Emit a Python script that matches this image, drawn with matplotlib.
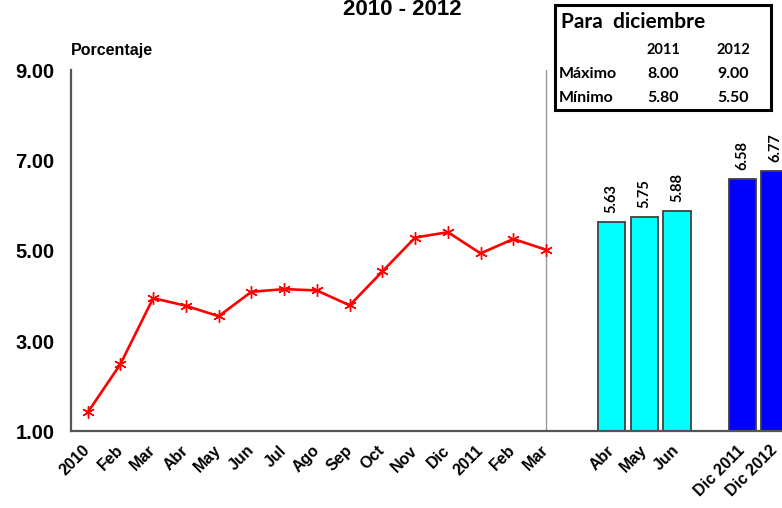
# Expectativas de inflacion 2010 - 2012
# grafico de linea (observado) + barras (expectativas)

import matplotlib
matplotlib.use('Agg')
import matplotlib.pyplot as plt
import numpy as np

# datos observados (linea)
meses_obs = ['2010', 'Feb', 'Mar', 'Abr', 'May', 'Jun', 'Jul', 'Ago', 'Sep',
             'Oct', 'Nov', 'Dic', '2011', 'Feb', 'Mar']
valores_obs = [1.42, 2.49, 3.95, 3.78, 3.55, 4.09, 4.15, 4.12, 3.79,
               4.54, 5.29, 5.41, 4.94, 5.26, 5.02]

# expectativas (barras)
meses_exp = ['Abr', 'May', 'Jun']
valores_exp = [5.63, 5.75, 5.88]
dic_labels = ['Dic 2011', 'Dic 2012']
valores_dic = [6.58, 6.77]

# tabla para diciembre
tabla_anios = ['2011', '2012']
tabla_max = ['8.00', '9.00']
tabla_min = ['5.80', '5.50']

yticks = [1, 3, 5, 7, 9]


fig = plt.figure(figsize=(7.82, 5.08), dpi=100)
W, H = 782.0, 508.0

# eje principal (se sale un poco por la derecha como en el original)
ax = fig.add_axes([71 / W, 1 - 431.4 / H, 0.9215, (431.4 - 70) / H])

x_obs = np.arange(len(meses_obs))
x_exp = np.arange(16, 16 + len(meses_exp))
x_dic = np.array([20, 21])

ax.plot(x_obs, valores_obs, color='red', lw=1.9, marker=(6, 2, 0),
        markersize=9, markeredgewidth=1.0, zorder=3)

ax.bar(x_exp, valores_exp, width=0.83, bottom=0, color='#00FFFF',
       edgecolor='#404040', linewidth=1.3, zorder=2)
ax.bar(x_dic, valores_dic, width=0.85, color='#0000FF',
       edgecolor='#404040', linewidth=1.3, zorder=2)

# etiquetas sobre las barras
for xx, v in list(zip(x_exp, valores_exp)) + list(zip(x_dic, valores_dic)):
    ax.text(xx, v + 0.2, '%.2f' % v, rotation=90, ha='center', va='bottom',
            fontsize=10.5, fontweight='bold', family='Lato', color='black')

ax.axvline(14, color='#999999', lw=1.0, zorder=1)

ax.set_xlim(-0.51, 21.5)
ax.set_ylim(1, 9)
ax.set_yticks(yticks)
ax.set_yticklabels(['%.2f' % t for t in yticks], fontsize=14.5,
                   fontweight='bold', family='Liberation Sans')

xticks = list(x_obs) + list(x_exp) + list(x_dic)
xlabels = meses_obs + meses_exp + dic_labels
ax.set_xticks(xticks)
ax.set_xticklabels(xlabels, rotation=45, ha='right', va='center',
                   rotation_mode='anchor', fontsize=11.5, fontweight='bold',
                   family='Liberation Sans')
ax.tick_params(axis='both', length=0)
ax.tick_params(axis='x', pad=12)
ax.tick_params(axis='y', pad=12)

for s in ['top', 'right']:
    ax.spines[s].set_visible(False)
for s in ['left', 'bottom']:
    ax.spines[s].set_color('#555555')
    ax.spines[s].set_linewidth(1.6)

# titulo (en el original queda recortado arriba)
fig.text(402 / W, 1 - 15 / H, '2010 - 2012', ha='center', va='baseline',
         fontsize=16, fontweight='bold', family='Liberation Sans')

fig.text(71 / W, 1 - 51 / H, 'Porcentaje', ha='left', va='center',
         fontsize=11.5, fontweight='bold', family='Liberation Sans')

# recuadro "Para diciembre"
box = plt.Rectangle((555 / W, 1 - 110 / H), (771 - 555) / W, (110 - 5) / H,
                    transform=fig.transFigure, facecolor='white',
                    edgecolor='black', linewidth=2.2, zorder=5)
fig.patches.append(box)

fig.text(561 / W, 1 - 22 / H, 'Para  diciembre', ha='left', va='center',
         fontsize=15, fontweight='bold', family='Lato', zorder=6)
cols = [663, 733]
for c, a in zip(cols, tabla_anios):
    fig.text(c / W, 1 - 50 / H, a, ha='center', va='center', fontsize=10.5,
             fontweight='bold', family='Lato', zorder=6)
fig.text(559 / W, 1 - 74 / H, 'Máximo', ha='left', va='center', fontsize=11.5,
         fontweight='bold', family='Lato', zorder=6)
fig.text(559 / W, 1 - 98 / H, 'Mínimo', ha='left', va='center', fontsize=11.5,
         fontweight='bold', family='Lato', zorder=6)
for c, a, b in zip(cols, tabla_max, tabla_min):
    fig.text(c / W, 1 - 74 / H, a, ha='center', va='center', fontsize=11.5,
             fontweight='bold', family='Lato', zorder=6)
    fig.text(c / W, 1 - 98 / H, b, ha='center', va='center', fontsize=11.5,
             fontweight='bold', family='Lato', zorder=6)

plt.savefig('out.png', dpi=100)
